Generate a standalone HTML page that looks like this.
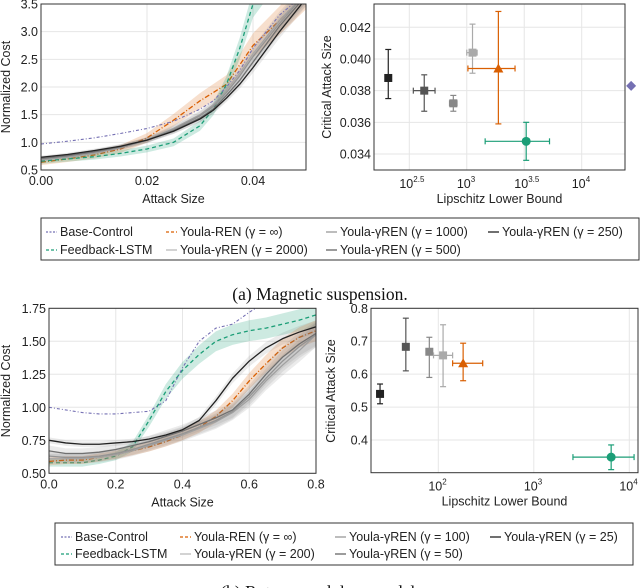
<!DOCTYPE html>
<html><head><meta charset="utf-8">
<style>
html,body{margin:0;padding:0;background:#fff;width:640px;height:588px;overflow:hidden}
svg{display:block;font-family:"Liberation Sans",sans-serif}
.cap{font-family:"Liberation Serif",serif;font-size:17.5px}
</style></head><body>
<svg id="fig" width="640" height="588" viewBox="0 0 640 588" xmlns="http://www.w3.org/2000/svg"></svg>
<script>
// ---------- Panel A: magnetic suspension (line chart) ----------
const aX = [0,0.005,0.01,0.015,0.02,0.025,0.03,0.0325,0.035,0.0375,0.04,0.045,0.05];
const aBase = [0.97,1.02,1.08,1.16,1.25,1.38,1.6,1.75,2.0,2.3,2.7,3.3,3.7];
const aLstm = [0.66,0.70,0.74,0.80,0.88,1.0,1.3,1.6,2.05,2.7,3.5,4.2,4.5];
const aRen = [0.64,0.70,0.77,0.88,1.08,1.4,1.75,1.9,2.05,2.4,2.75,3.2,3.7];
const aG2000 = [0.68,0.73,0.80,0.90,1.04,1.25,1.5,1.68,1.95,2.25,2.6,3.2,3.7];
const aG1000 = [0.70,0.75,0.82,0.91,1.04,1.23,1.48,1.65,1.9,2.2,2.55,3.15,3.7];
const aG500 = [0.71,0.76,0.83,0.92,1.04,1.21,1.44,1.6,1.85,2.12,2.45,3.1,3.65];
const aG250 = [0.73,0.78,0.85,0.93,1.04,1.2,1.42,1.58,1.8,2.05,2.35,3.0,3.6];
const aXTicks = [0,0.02,0.04];
const aXTickLabels = ["0.00","0.02","0.04"];
const aYTicks = [0.5,1.0,1.5,2.0,2.5,3.0,3.5];
const aYTickLabels = ["0.5","1.0","1.5","2.0","2.5","3.0","3.5"];
// ---------- Panel A scatter ----------
const aSLog = [2.317,2.63,2.883,3.05,3.275,3.517,4.43];
const aSY = [0.0388,0.0380,0.0372,0.0404,0.0394,0.0348,0.0383];
const aSYlo = [0.0375,0.0367,0.0367,0.0391,0.0359,0.0336,0.0383];
const aSYhi = [0.0406,0.0390,0.0377,0.0422,0.0430,0.0360,0.0383];
const aSXlo = [2.30,2.535,2.85,3.0,3.01,3.16,4.43];
const aSXhi = [2.33,2.724,2.915,3.09,3.42,3.72,4.43];
const aSYTicks = [0.034,0.036,0.038,0.040,0.042];
const aSYTickLabels = ["0.034","0.036","0.038","0.040","0.042"];
const aSXTicks = [2.5,3,3.5,4];
const aSXTickBase = ["10","10","10","10"];
const aSXTickExp = ["2.5","3","3.5","4"];
// ---------- Panel B line chart ----------
const bX = [0,0.05,0.1,0.15,0.2,0.25,0.3,0.35,0.4,0.45,0.5,0.55,0.6,0.65,0.7,0.75,0.8];
const bBase = [1.0,0.98,0.96,0.95,0.95,0.96,0.97,1.05,1.3,1.5,1.6,1.63,1.72,1.8,1.85,1.9,1.95];
const bLstm = [0.58,0.58,0.58,0.60,0.63,0.70,0.90,1.12,1.28,1.40,1.50,1.55,1.58,1.60,1.63,1.66,1.70];
const bRen = [0.59,0.60,0.60,0.62,0.64,0.67,0.70,0.74,0.79,0.85,0.93,1.05,1.2,1.33,1.45,1.53,1.58];
const bG200 = [0.61,0.61,0.61,0.62,0.64,0.67,0.71,0.75,0.79,0.84,0.89,0.96,1.06,1.2,1.32,1.43,1.55];
const bG100 = [0.63,0.62,0.62,0.63,0.65,0.68,0.72,0.76,0.80,0.85,0.90,0.97,1.08,1.22,1.35,1.46,1.55];
const bG50 = [0.67,0.65,0.65,0.66,0.68,0.71,0.74,0.78,0.82,0.87,0.92,0.98,1.10,1.25,1.38,1.48,1.56];
const bG25 = [0.75,0.73,0.72,0.72,0.73,0.74,0.76,0.79,0.83,0.90,1.05,1.22,1.35,1.45,1.52,1.57,1.61];
const bXTicks = [0,0.2,0.4,0.6,0.8];
const bXTickLabels = ["0.0","0.2","0.4","0.6","0.8"];
const bYTicks = [0.5,0.75,1.0,1.25,1.5,1.75];
const bYTickLabels = ["0.50","0.75","1.00","1.25","1.50","1.75"];
// ---------- Panel B scatter ----------
const bSLog = [1.39,1.66,1.906,2.05,2.26,3.81];
const bSY = [0.54,0.683,0.668,0.657,0.633,0.348];
const bSYlo = [0.51,0.61,0.59,0.562,0.58,0.31];
const bSYhi = [0.57,0.77,0.712,0.75,0.694,0.385];
const bSXlo = [1.38,1.65,1.9,1.95,2.15,3.41];
const bSXhi = [1.40,1.67,1.91,2.15,2.465,4.05];
const bSYTicks = [0.4,0.5,0.6,0.7,0.8];
const bSYTickLabels = ["0.4","0.5","0.6","0.7","0.8"];
const bSXTicks = [2,3,4];
const bSXTickBase = ["10","10","10"];
const bSXTickExp = ["2","3","4"];

const NS="http://www.w3.org/2000/svg";
const svg=document.getElementById('fig');
const FS=12.5;
function mk(tag,attrs,parent){const e=document.createElementNS(NS,tag);for(const k in attrs)e.setAttribute(k,attrs[k]);(parent||svg).appendChild(e);return e;}
function lin(d0,d1,r0,r1){return v=>r0+(v-d0)/(d1-d0)*(r1-r0);}

const C={base:'#7570b3',lstm:'#1b9e77',ren:'#d95f02',g1:'#b0b0b0',g2:'#999',g3:'#707070',g4:'#222'};

function clipRect(id,x0,y0,x1,y1){const cp=mk('clipPath',{id:id});mk('rect',{x:x0,y:y0,width:x1-x0,height:y1-y0},cp);}

function frame(x0,y0,x1,y1,xt,xtl,yt,ytl,sx,sy,xlab,name){
  const g=mk('g',{});
  
  
  xt.forEach((t,i)=>{const x=sx(t);mk('line',{x1:x,x2:x,y1:y0,y2:y1,stroke:'#e6e6e6','stroke-width':1},g);
    if(xtl[i]){const tx=mk('text',{x:x,y:y1+15,'font-size':FS,'text-anchor':'middle',fill:'#222'},g);tx.textContent=xtl[i];
    }});
  yt.forEach((t,i)=>{const y=sy(t);mk('line',{x1:x0,x2:x1,y1:y,y2:y,stroke:'#e6e6e6','stroke-width':1},g);
    const tx=mk('text',{x:x0-3,y:y+4.5,'font-size':FS,'text-anchor':'end',fill:'#222'},g);tx.textContent=ytl[i];
    });
  const xl=mk('text',{x:(x0+x1)/2,y:y1+33,'font-size':FS,'text-anchor':'middle',fill:'#222'},g);xl.textContent=xlab;
  
  return g;
}
function border(x0,y0,x1,y1){mk('rect',{x:x0,y:y0,width:x1-x0,height:y1-y0,fill:'none',stroke:'#333','stroke-width':1});}
function ylabel(x,y,txt){const t=mk('text',{x:x,y:y,'font-size':FS,'text-anchor':'middle',fill:'#222',transform:`rotate(-90 ${x} ${y})`});t.textContent=txt;
  }

function series(xs,ys,sx,sy,color,dash,band,bandColor,clip,name,w){
  const g=mk('g',{'clip-path':`url(#${clip})`});
  
  
  if(band){let top=xs.map((x,i)=>`${sx(x)},${sy(ys[i]*(1+band))}`);
    let bot=xs.map((x,i)=>`${sx(x)},${sy(ys[i]*(1-band))}`).reverse();
    mk('polygon',{points:top.concat(bot).join(' '),fill:bandColor,stroke:'none'},g);}
  mk('polyline',{points:xs.map((x,i)=>`${sx(x)},${sy(ys[i])}`).join(' '),fill:'none',stroke:color,'stroke-width':w||1.3,'stroke-dasharray':dash||'none','stroke-linejoin':'round'},g);
}

// ===== Panel A line =====
{const x0=41,x1=306,y0=4,y1=170;
 const sx=lin(0,0.05,x0,x1),sy=lin(0.5,3.5,y1,y0);
 clipRect('ca',x0,y0,x1,y1);
 frame(x0,y0,x1,y1,aXTicks,aXTickLabels,aYTicks,aYTickLabels,sx,sy,'Attack Size','a-line');
 series(aX,aRen,sx,sy,C.ren,'5,2,1,2',0.08,'rgba(230,150,90,0.3)','ca','series-youla-ren');
 series(aX,aLstm,sx,sy,C.lstm,'4,3',0.07,'rgba(27,158,119,0.22)','ca','series-feedback-lstm');
 series(aX,aG2000,sx,sy,C.g1,'',0.05,'rgba(120,120,120,0.15)','ca','series-gamma-2000');
 series(aX,aG1000,sx,sy,C.g2,'',0.05,'rgba(120,120,120,0.15)','ca','series-gamma-1000');
 series(aX,aG500,sx,sy,C.g3,'',0.05,'rgba(120,120,120,0.15)','ca','series-gamma-500');
 series(aX,aG250,sx,sy,C.g4,'',0.04,'rgba(120,120,120,0.15)','ca','series-gamma-250');
 series(aX,aBase,sx,sy,C.base,'3,2,1,2',0,null,'ca','series-base-control',1.1);
 border(x0,y0,x1,y1);ylabel(10,87,'Normalized Cost');}

function scatter(sx,sy,L,Y,Ylo,Yhi,Xlo,Xhi,cols,shapes,pref){
  L.forEach((l,i)=>{const g=mk('g',{});
    
    
    const c=cols[i],x=sx(l),y=sy(Y[i]);
    if(Ylo[i]!==Yhi[i]){mk('line',{x1:x,x2:x,y1:sy(Ylo[i]),y2:sy(Yhi[i]),stroke:c,'stroke-width':1.2},g);
      [Ylo[i],Yhi[i]].forEach(v=>mk('line',{x1:x-3,x2:x+3,y1:sy(v),y2:sy(v),stroke:c,'stroke-width':1.2},g));}
    if(Xlo[i]!==Xhi[i]){mk('line',{x1:sx(Xlo[i]),x2:sx(Xhi[i]),y1:y,y2:y,stroke:c,'stroke-width':1.2},g);
      [Xlo[i],Xhi[i]].forEach(v=>mk('line',{x1:sx(v),x2:sx(v),y1:y-3,y2:y+3,stroke:c,'stroke-width':1.2},g));}
    const s=shapes[i];
    if(s==='sq')mk('rect',{x:x-4,y:y-4,width:8,height:8,fill:c},g);
    else if(s==='tri')mk('polygon',{points:`${x},${y-5} ${x-5},${y+4} ${x+5},${y+4}`,fill:c},g);
    else if(s==='ci')mk('circle',{cx:x,cy:y,r:4.5,fill:c},g);
    else mk('polygon',{points:`${x},${y-5} ${x+5},${y} ${x},${y+5} ${x-5},${y}`,fill:c},g);
  });
}
function logTicks(sx,y1,ts,base,exp){ts.forEach((t,i)=>{const x=sx(t);
  const tx=mk('text',{x:x-3,y:y1+18,'font-size':FS,'text-anchor':'middle',fill:'#222'});tx.textContent=base[i];
  
  const e=mk('text',{x:x+4,y:y1+12,'font-size':8,'text-anchor':'start',fill:'#222'});e.textContent=exp[i];});}

// ===== Panel A scatter =====
{const x0=374,x1=625,y0=4,y1=170;
 const sx=lin(2.5,4,409.3,581.7),sy=lin(0.034,0.042,154,27.3);
 frame(x0,y0,x1,y1,aSXTicks,['','','',''],aSYTicks,aSYTickLabels,sx,sy,'Lipschitz Lower Bound','a-scatter');
 logTicks(sx,y1,aSXTicks,aSXTickBase,aSXTickExp);
 scatter(sx,sy,aSLog,aSY,aSYlo,aSYhi,aSXlo,aSXhi,['#222','#555','#888','#aaa',C.ren,C.lstm,C.base],['sq','sq','sq','sq','tri','ci','di'],'a');
 border(x0,y0,x1,y1);ylabel(331,87,'Critical Attack Size');}

// ===== Panel B line =====
{const x0=49,x1=316,y0=308.3,y1=473.3;
 const sx=lin(0,0.8,x0,x1),sy=lin(0.5,1.75,y1,y0);
 clipRect('cb',x0,y0,x1,y1);
 frame(x0,y0,x1,y1,bXTicks,bXTickLabels,bYTicks,bYTickLabels,sx,sy,'Attack Size','b-line');
 series(bX,bLstm,sx,sy,C.lstm,'4,3',0.05,'rgba(27,158,119,0.22)','cb','series-feedback-lstm-b');
 series(bX,bRen,sx,sy,C.ren,'5,2,1,2',0.05,'rgba(230,150,90,0.3)','cb','series-youla-ren-b');
 series(bX,bG200,sx,sy,C.g1,'',0.06,'rgba(120,120,120,0.15)','cb','series-gamma-200');
 series(bX,bG100,sx,sy,C.g2,'',0.06,'rgba(120,120,120,0.15)','cb','series-gamma-100');
 series(bX,bG50,sx,sy,C.g3,'',0.06,'rgba(120,120,120,0.15)','cb','series-gamma-50');
 series(bX,bG25,sx,sy,C.g4,'',0.03,'rgba(120,120,120,0.15)','cb','series-gamma-25');
 series(bX,bBase,sx,sy,C.base,'3,2,1,2',0,null,'cb','series-base-control-b',1.1);
 border(x0,y0,x1,y1);ylabel(10,391,'Normalized Cost');}

// ===== Panel B scatter =====
{const x0=371,x1=638,y0=308.3,y1=472.7;
 const sx=lin(2,4,438.3,629.3),sy=lin(0.4,0.8,440,308.3);
 frame(x0,y0,x1,y1,bSXTicks,['','',''],bSYTicks,bSYTickLabels,sx,sy,'Lipschitz Lower Bound','b-scatter');
 logTicks(sx,y1,bSXTicks,bSXTickBase,bSXTickExp);
 scatter(sx,sy,bSLog,bSY,bSYlo,bSYhi,bSXlo,bSXhi,['#222','#555','#888','#aaa',C.ren,C.lstm],['sq','sq','sq','sq','tri','ci'],'b');
 border(x0,y0,x1,y1);ylabel(335,391,'Critical Attack Size');}

// ===== Legends =====
function legend(bx0,by0,bx1,by1,items,name){
  const g=mk('g',{});
  
  
  mk('rect',{x:bx0,y:by0,width:bx1-bx0,height:by1-by0,fill:'#fff',stroke:'#333','stroke-width':1},g);
  items.forEach(it=>{const e=mk('g',{},g);
    
    
    mk('line',{x1:it[0],x2:it[0]+11,y1:it[1]-4,y2:it[1]-4,stroke:it[3],'stroke-width':1.3,'stroke-dasharray':it[4]||'none'},e);
    const t=mk('text',{x:it[0]+14,y:it[1],'font-size':12.5,fill:'#222'},e);t.textContent=it[2];});
}
legend(41,218,639,260,[
 [46,236,'Base-Control',C.base,'2,1.5'],[166,236,'Youla-REN (γ = ∞)',C.ren,'3,2'],
 [326,236,'Youla-γREN (γ = 1000)','#999'],[488,236,'Youla-γREN (γ = 250)','#222'],
 [46,254,'Feedback-LSTM',C.lstm,'3,2'],[166,254,'Youla-γREN (γ = 2000)','#bbb'],
 [326,254,'Youla-γREN (γ = 500)','#666']],'legend-a');
legend(55,523,633,565,[
 [61,541,'Base-Control',C.base,'2,1.5'],[180,541,'Youla-REN (γ = ∞)',C.ren,'3,2'],
 [335,541,'Youla-γREN (γ = 100)','#999'],[490,541,'Youla-γREN (γ = 25)','#222'],
 [61,558,'Feedback-LSTM',C.lstm,'3,2'],[180,558,'Youla-γREN (γ = 200)','#bbb'],
 [335,558,'Youla-γREN (γ = 50)','#666']],'legend-b');

const c1=mk('text',{x:320,y:300,'text-anchor':'middle','class':'cap',fill:'#111'});c1.textContent='(a) Magnetic suspension.';

const c2=mk('text',{x:320,y:598,'text-anchor':'middle','class':'cap',fill:'#111'});c2.textContent='(b) Rotary pendulum model.';

</script>
</body></html>
